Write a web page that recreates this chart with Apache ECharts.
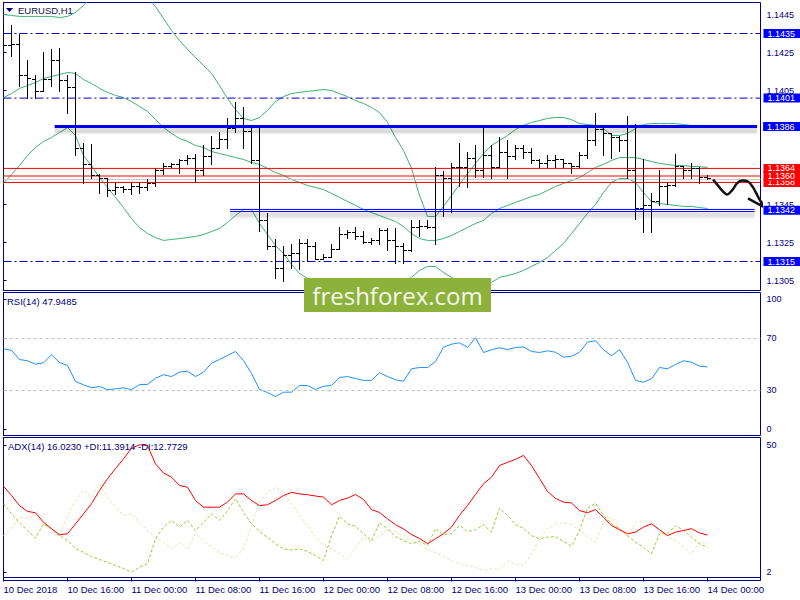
<!DOCTYPE html>
<html><head><meta charset="utf-8">
<script src="https://cdn.jsdelivr.net/npm/echarts@6/dist/echarts.min.js"></script>
<style>html,body{margin:0;padding:0;background:#fff}#c{width:800px;height:600px}</style>
</head><body><div id="c"></div>
<script>
// ---- time axis (hourly bars, index 0 = 10 Dec 2018 08:00) ----
const timeLabels = ['10 Dec 2018','10 Dec 16:00','11 Dec 00:00','11 Dec 08:00','11 Dec 16:00','12 Dec 00:00','12 Dec 08:00','12 Dec 16:00','13 Dec 00:00','13 Dec 08:00','13 Dec 16:00','14 Dec 00:00'];
const timeLabelBars = [0,8,16,24,32,40,48,56,64,72,80,88];

// ---- EURUSD H1 OHLC ----
const open = [1.14376,1.14292,1.14297,1.14134,1.14113,1.14050,1.14113,1.14208,1.14103,1.14066,
1.13750,1.13661,1.13603,1.13587,1.13524,1.13540,1.13529,1.13545,1.13540,1.13561,
1.13629,1.13655,1.13661,1.13682,1.13697,1.13629,1.13703,1.13745,1.13797,1.13855,
1.13903,1.13839,1.13682,1.13366,1.13234,1.13118,1.13182,1.13197,1.13250,1.13234,
1.13161,1.13176,1.13218,1.13297,1.13303,1.13282,1.13255,1.13261,1.13318,1.13261,
1.13234,1.13213,1.13334,1.13339,1.13329,1.13603,1.13587,1.13645,1.13650,1.13697,
1.13629,1.13708,1.13650,1.13724,1.13703,1.13745,1.13724,1.13682,1.13666,1.13682,
1.13692,1.13666,1.13655,1.13708,1.13787,1.13850,1.13824,1.13803,1.13787,1.13629,
1.13429,1.13445,1.13471,1.13550,1.13555,1.13655,1.13629,1.13640,1.13597];
const high = [1.14397,1.14397,1.14350,1.14213,1.14134,1.14255,1.14266,1.14276,1.14134,1.14145,
1.13776,1.13771,1.13608,1.13592,1.13566,1.13545,1.13561,1.13566,1.13582,1.13640,
1.13666,1.13671,1.13692,1.13708,1.13718,1.13761,1.13813,1.13829,1.13903,1.13987,
1.13961,1.13855,1.13866,1.13403,1.13271,1.13229,1.13240,1.13271,1.13266,1.13255,
1.13192,1.13240,1.13329,1.13318,1.13329,1.13313,1.13276,1.13324,1.13324,1.13324,
1.13245,1.13371,1.13371,1.13366,1.13645,1.13624,1.13666,1.13776,1.13724,1.13761,
1.13855,1.13761,1.13803,1.13787,1.13761,1.13761,1.13750,1.13692,1.13708,1.13708,
1.13692,1.13671,1.13724,1.13866,1.13934,1.13855,1.13824,1.13813,1.13918,1.13876,
1.13692,1.13513,1.13629,1.13566,1.13718,1.13655,1.13671,1.13645,1.13603];
const low = [1.14276,1.14234,1.14076,1.14013,1.14013,1.14045,1.14076,1.14050,1.13929,1.13713,
1.13561,1.13592,1.13508,1.13497,1.13503,1.13518,1.13503,1.13513,1.13524,1.13550,
1.13613,1.13645,1.13618,1.13661,1.13566,1.13603,1.13661,1.13745,1.13750,1.13829,
1.13750,1.13666,1.13313,1.13218,1.13061,1.13045,1.13118,1.13108,1.13155,1.13161,
1.13161,1.13176,1.13218,1.13276,1.13266,1.13245,1.13240,1.13240,1.13208,1.13140,
1.13140,1.13203,1.13282,1.13324,1.13240,1.13392,1.13413,1.13550,1.13540,1.13597,
1.13597,1.13592,1.13645,1.13592,1.13692,1.13697,1.13671,1.13645,1.13645,1.13645,
1.13645,1.13618,1.13645,1.13697,1.13761,1.13708,1.13697,1.13734,1.13587,1.13376,
1.13303,1.13303,1.13445,1.13455,1.13550,1.13587,1.13592,1.13561,1.13582];
const close = [1.14292,1.14297,1.14134,1.14118,1.14050,1.14113,1.14208,1.14103,1.14066,1.13750,
1.13661,1.13603,1.13587,1.13524,1.13540,1.13529,1.13545,1.13540,1.13561,1.13629,
1.13655,1.13661,1.13682,1.13697,1.13629,1.13703,1.13745,1.13797,1.13855,1.13903,
1.13839,1.13682,1.13366,1.13234,1.13118,1.13182,1.13197,1.13250,1.13234,1.13161,
1.13176,1.13218,1.13297,1.13303,1.13282,1.13255,1.13261,1.13318,1.13261,1.13234,
1.13213,1.13334,1.13339,1.13329,1.13603,1.13587,1.13645,1.13650,1.13697,1.13629,
1.13708,1.13650,1.13724,1.13703,1.13745,1.13724,1.13682,1.13666,1.13682,1.13692,
1.13666,1.13655,1.13708,1.13787,1.13850,1.13824,1.13803,1.13787,1.13629,1.13429,
1.13445,1.13471,1.13550,1.13555,1.13655,1.13629,1.13640,1.13597,1.13587];

// ---- Bollinger Bands ----
const bbUpper = [1.14450,1.14445,1.14440,1.14440,1.14440,1.14440,1.14440,1.14434,1.14440,1.14461,
1.14497,1.14550,1.14603,1.14640,1.14655,1.14655,1.14629,1.14587,1.14540,1.14492,
1.14429,1.14366,1.14313,1.14266,1.14224,1.14182,1.14140,1.14076,1.14008,1.13950,
1.13903,1.13892,1.13908,1.13945,1.13992,1.14018,1.14034,1.14040,1.14045,1.14050,
1.14055,1.14050,1.14034,1.14018,1.13997,1.13982,1.13961,1.13934,1.13882,1.13803,
1.13734,1.13640,1.13497,1.13387,1.13387,1.13440,1.13497,1.13555,1.13613,1.13666,
1.13718,1.13761,1.13787,1.13813,1.13845,1.13866,1.13882,1.13892,1.13903,1.13908,
1.13908,1.13897,1.13876,1.13871,1.13866,1.13850,1.13813,1.13813,1.13824,1.13850,
1.13871,1.13876,1.13876,1.13876,1.13876,1.13871,1.13866,1.13866,1.13866];
const bbMiddle = [1.14013,1.14034,1.14061,1.14076,1.14092,1.14113,1.14124,1.14134,1.14145,1.14140,
1.14108,1.14087,1.14061,1.14040,1.14024,1.14013,1.13992,1.13966,1.13940,1.13897,
1.13855,1.13824,1.13797,1.13782,1.13761,1.13750,1.13729,1.13718,1.13708,1.13697,
1.13687,1.13671,1.13661,1.13640,1.13618,1.13603,1.13582,1.13566,1.13550,1.13540,
1.13529,1.13508,1.13487,1.13466,1.13445,1.13424,1.13408,1.13392,1.13376,1.13361,
1.13334,1.13297,1.13271,1.13261,1.13261,1.13271,1.13287,1.13308,1.13329,1.13350,
1.13366,1.13403,1.13429,1.13445,1.13461,1.13476,1.13492,1.13503,1.13524,1.13545,
1.13561,1.13576,1.13592,1.13618,1.13645,1.13661,1.13682,1.13697,1.13697,1.13697,
1.13687,1.13676,1.13666,1.13661,1.13655,1.13655,1.13650,1.13650,1.13645];
const bbLower = [1.13561,1.13608,1.13655,1.13708,1.13750,1.13782,1.13803,1.13829,1.13855,1.13813,
1.13708,1.13655,1.13592,1.13540,1.13487,1.13434,1.13376,1.13329,1.13297,1.13276,
1.13261,1.13266,1.13271,1.13276,1.13282,1.13292,1.13308,1.13324,1.13355,1.13392,
1.13424,1.13424,1.13350,1.13292,1.13234,1.13192,1.13134,1.13087,1.13061,1.13040,
1.13024,1.13008,1.12997,1.12992,1.12992,1.12992,1.12997,1.13003,1.13008,1.13024,
1.13040,1.13066,1.13103,1.13124,1.13124,1.13092,1.13066,1.13045,1.13029,1.13018,
1.13018,1.13040,1.13066,1.13076,1.13087,1.13103,1.13124,1.13145,1.13171,1.13208,
1.13245,1.13297,1.13350,1.13403,1.13450,1.13513,1.13566,1.13587,1.13587,1.13566,
1.13513,1.13466,1.13455,1.13450,1.13445,1.13440,1.13440,1.13434,1.13429];

// ---- RSI(14) ----
const rsi = [61.9,60.6,53.6,52.6,50.0,51.0,57.2,51.3,49.0,36.6,
34.0,31.7,32.7,30.2,30.9,31.7,30.2,34.3,34.3,39.1,
41.8,40.4,43.8,44.5,40.4,43.8,50.7,53.6,56.7,59.8,
52.8,42.8,30.4,28.1,25.0,28.3,28.3,33.5,33.5,30.4,
32.9,33.5,39.7,40.4,38.9,37.4,37.4,43.3,40.4,37.9,
36.8,46.4,47.4,47.4,52.0,63.1,65.4,66.5,62.9,70.4,
59.0,61.1,62.6,61.3,62.9,63.3,59.8,59.0,60.3,59.2,
55.4,56.1,59.2,67.0,68.1,61.1,56.5,61.1,51.5,37.4,
36.0,38.7,47.4,46.4,49.7,52.6,51.5,48.4,47.9];

// ---- ADX(14) ----
const adx = [34.4,30.9,27.1,24.9,24.4,20.8,18.4,16.1,16.5,20.2,
24.0,27.8,32.8,37.2,41.0,44.7,48.7,50.0,49.7,42.8,
39.4,37.8,34.7,34.0,29.0,26.5,26.5,26.5,28.4,31.5,
31.5,29.0,27.1,27.4,29.0,30.9,32.1,31.5,31.2,30.7,
30.3,27.4,29.0,29.9,31.3,29.4,25.6,24.5,22.1,19.9,
18.3,16.2,14.7,12.8,14.6,16.5,19.0,23.4,27.1,31.3,
35.3,37.8,42.2,43.4,44.5,46.0,42.2,37.3,32.4,29.8,
28.4,28.1,25.2,24.4,25.6,22.7,19.6,18.0,16.5,17.1,
19.0,20.2,18.0,15.8,17.1,17.7,18.4,16.8,16.0];
const plusDI = [27.8,24.0,20.6,17.7,14.8,20.2,18.4,15.8,13.9,10.9,
9.5,7.9,6.8,5.7,4.5,3.4,2.0,3.9,5.2,14.6,
19.0,21.5,19.0,21.5,17.7,20.8,24.0,21.5,25.2,29.7,
24.6,20.2,17.3,15.2,12.7,10.8,10.4,10.8,9.8,8.3,
6.4,15.8,23.1,20.2,19.3,16.5,13.9,20.6,18.4,15.4,
13.9,12.7,13.6,12.1,18.4,16.1,16.5,19.6,17.3,18.0,
19.9,17.1,26.1,23.4,19.9,18.6,15.8,14.6,15.2,15.4,
13.6,11.8,17.7,26.1,28.0,23.4,20.2,18.4,15.8,13.3,
11.4,8.9,16.5,16.5,19.6,17.7,15.2,12.7,11.4];
const minusDI = [15.8,18.4,22.7,22.3,23.4,20.2,17.7,15.8,23.4,29.0,
32.8,30.3,35.3,30.3,26.5,23.4,24.0,20.8,17.7,15.2,
13.1,10.8,13.1,11.0,16.5,13.9,11.4,9.5,8.3,7.6,
10.8,19.6,28.4,32.1,34.0,32.1,27.8,23.4,19.6,15.2,
12.1,10.8,8.9,7.0,11.4,15.2,13.3,15.8,18.1,17.1,
15.8,13.9,12.7,10.5,9.4,7.9,6.4,5.2,4.5,3.8,
2.6,3.2,3.2,6.0,5.2,4.5,8.9,14.7,18.4,20.2,
20.7,20.0,17.7,15.2,13.3,20.8,22.7,18.4,15.2,20.8,
21.4,20.8,17.7,15.2,13.9,11.4,8.9,13.3,12.8];

// ---- axis tick labels ----
const priceTicks = [1.1305,1.1325,1.1345,1.1405,1.1425,1.1445];
const rsiTicks = [0,30,70,100];
const adxTicks = [2,50];

// ---- drawn levels ----
const dashLevels = [1.1435,1.1401,1.1315];
const redLevels = [1.13566,1.1360,1.1364];
const redLevelLabels = ['1.1358','1.1360','1.1364'];
const bidPrice = 1.13582;
const resistLevel = 1.1386, resistStartBar = 6.4, levelEndBar = 94.2;
const supportTop = 1.13424, supportBottom = 1.13413, supportLabel = 1.1342, supportStartBar = 28.3, supportEndBar = 93.9;
// hand-drawn forecast arrow, [bar index, price]
const arrowPath = [[88.69,1.13582],[89.31,1.13550],[89.81,1.13524],[90.44,1.13503],[91.06,1.13524],[91.69,1.13561],[92.31,1.13576],[93.06,1.13571],[93.69,1.13540],[94.31,1.13492],[94.94,1.13445]];
const arrowHead = [[93.06,1.13482],[94.94,1.13439],[95.31,1.13529]];

const NAVY = '#000080';
const FONT = 'Liberation Sans';
const PMIN = 1.129974, PMAX = 1.145132, MAIN_H = 288;
const PX = (PMAX - PMIN) / MAIN_H;       // price per pixel, for drop shadows
const X0 = 0, X1 = 94.625;
const idx = a => a.map((v,i)=>[i,v]);

const chart = echarts.init(document.getElementById('c'), null, {renderer:'svg'});

const xBase = {type:'value', min:X0, max:X1, show:false};
const yBase = {
  type:'value', position:'right', scale:true,
  axisLine:{show:true, lineStyle:{color:NAVY, width:1}},
  axisTick:{show:true, inside:false, length:3, lineStyle:{color:NAVY}},
  axisLabel:{color:NAVY, fontSize:9, fontFamily:FONT, margin:6},
  splitLine:{show:false}
};

function endLbl(text, bg, dist){
  return {show:true, formatter:text, distance:dist, color:'#fff', backgroundColor:bg,
    padding:[0,8,0,4], fontSize:9, fontFamily:FONT, lineHeight:9, align:'left', verticalAlign:'middle'};
}
function levelSeries(name, x0, x1, v, lineStyle, label, z){
  return {name, type:'line', xAxisIndex:0, yAxisIndex:0, data:[[x0,v],[x1,v]], showSymbol:false, symbol:'none',
    clip:false, silent:true, z:z||3, lineStyle, endLabel: label || {show:false}, emphasis:{disabled:true}};
}

const levels = [];
dashLevels.forEach(v => levels.push(levelSeries('lvl'+v, X0, X1, v,
  {type:[8,3,2,3], color:'#0000cd', width:1}, endLbl(v.toFixed(4), '#0000ff', 3))));
levels.push(levelSeries('bid', X0, X1, bidPrice, {type:'solid', color:'#c8c8c8', width:1}, null));
redLevels.forEach((v,i) => levels.push(levelSeries('red'+i, X0, X1, v,
  {type:'solid', color:'#ff0000', width:1}, endLbl(redLevelLabels[i], '#ff0000', 3), 3+i*0.1)));
// soft drop shadows under the drawn blue levels
levels.push(levelSeries('resistShadow1', resistStartBar, levelEndBar, resistLevel - 3.5*PX,
  {type:'solid', color:'rgba(0,0,0,0.13)', width:5}, null, 4));
levels.push(levelSeries('resistShadow2', resistStartBar, levelEndBar, resistLevel - 6.5*PX,
  {type:'solid', color:'rgba(0,0,0,0.06)', width:3}, null, 4));
levels.push(levelSeries('resist', resistStartBar, levelEndBar, resistLevel,
  {type:'solid', color:'#0000f0', width:3}, endLbl(resistLevel.toFixed(4), '#0000ff', 6), 5));
levels.push(levelSeries('supportShadow1', supportStartBar, supportEndBar, supportBottom - 3*PX,
  {type:'solid', color:'rgba(0,0,0,0.12)', width:4}, null, 4));
levels.push(levelSeries('supportShadow2', supportStartBar, supportEndBar, supportBottom - 6*PX,
  {type:'solid', color:'rgba(0,0,0,0.05)', width:3}, null, 4));
levels.push(levelSeries('supportTop', supportStartBar, supportEndBar, supportTop,
  {type:'solid', color:'#0000ff', width:1}, null, 5));
levels.push(levelSeries('supportBottom', supportStartBar, supportEndBar, supportBottom,
  {type:'solid', color:'#0000ff', width:1}, null, 5));
levels.push(levelSeries('supportLbl', supportEndBar, X1, supportLabel,
  {opacity:0, width:0}, endLbl(supportLabel.toFixed(4), '#0000ff', 3), 5));

const option = {
  animation:false,
  backgroundColor:'#fff',
  grid:[
    {left:3.5, top:2.5, width:757, height:MAIN_H, show:true, borderColor:NAVY, borderWidth:1},
    {left:3.5, top:292.5, width:757, height:143, show:true, borderColor:NAVY, borderWidth:1},
    {left:3.5, top:437.5, width:757, height:143, show:true, borderColor:NAVY, borderWidth:1}
  ],
  xAxis:[
    {...xBase, gridIndex:0},
    {...xBase, gridIndex:1},
    {type:'value', gridIndex:2, min:X0, max:X1, show:true,
      axisLine:{show:true, lineStyle:{color:NAVY}},
      axisTick:{show:true, inside:false, length:4, customValues:timeLabelBars, lineStyle:{color:NAVY}},
      axisLabel:{show:true, customValues:timeLabelBars, align:'left', margin:4, color:NAVY, fontSize:9.5, fontFamily:FONT,
        formatter:v => timeLabels[timeLabelBars.indexOf(Math.round(v))] || ''},
      splitLine:{show:false}}
  ],
  yAxis:[
    {...yBase, gridIndex:0, min:PMIN, max:PMAX,
      axisTick:{...yBase.axisTick, customValues:priceTicks},
      axisLabel:{...yBase.axisLabel, customValues:priceTicks, formatter:v=>v.toFixed(4)}},
    {...yBase, gridIndex:1, min:-5.2, max:105.4,
      axisTick:{...yBase.axisTick, customValues:rsiTicks},
      axisLabel:{...yBase.axisLabel, customValues:rsiTicks, formatter:v=>String(Math.round(v))}},
    {...yBase, gridIndex:2, min:-1.13, max:52.75,
      axisTick:{...yBase.axisTick, customValues:adxTicks},
      axisLabel:{...yBase.axisLabel, customValues:adxTicks, formatter:v=>String(Math.round(v))}}
  ],
  series:[
    {name:'BB upper', type:'line', xAxisIndex:0, yAxisIndex:0, data:idx(bbUpper), showSymbol:false, clip:true,
      lineStyle:{color:'#3cb371', width:1}, z:2, silent:true},
    {name:'BB lower', type:'line', xAxisIndex:0, yAxisIndex:0, data:idx(bbLower), showSymbol:false, clip:true,
      lineStyle:{color:'#3cb371', width:1}, z:2, silent:true},
    {name:'BB middle', type:'line', xAxisIndex:0, yAxisIndex:0, data:idx(bbMiddle), showSymbol:false, clip:true,
      lineStyle:{color:'#3cb371', width:1}, z:2, silent:true},
    ...levels,
    {name:'EURUSD', type:'custom', xAxisIndex:0, yAxisIndex:0, z:4.5, clip:true,
      data: open.map((o,i)=>[i,o,high[i],low[i],close[i]]),
      encode:{x:0, y:[1,2,3,4]},
      renderItem:(params, api)=>{
        const i = api.value(0);
        const pH = api.coord([i, api.value(2)]);
        const pL = api.coord([i, api.value(3)]);
        const pO = api.coord([i, api.value(1)]);
        const pC = api.coord([i, api.value(4)]);
        const cx = Math.floor(pH[0]) + 0.5;
        const st = {stroke:'#000', lineWidth:1};
        const oy = Math.round(pO[1]) + 0.5, cy = Math.round(pC[1]) + 0.5;
        return {type:'group', children:[
          {type:'line', shape:{x1:cx, y1:Math.round(pH[1]), x2:cx, y2:Math.round(pL[1])+1}, style:st},
          {type:'line', shape:{x1:cx-3.5, y1:oy, x2:cx, y2:oy}, style:st},
          {type:'line', shape:{x1:cx, y1:cy, x2:cx+3.5, y2:cy}, style:st}
        ]};
      }},
    {name:'forecast', type:'line', xAxisIndex:0, yAxisIndex:0, data:arrowPath, showSymbol:false, clip:false, smooth:0.35,
      lineStyle:{color:'#111', width:2.5}, z:8, silent:true},
    {name:'forecastHead', type:'line', xAxisIndex:0, yAxisIndex:0, data:arrowHead, showSymbol:false, clip:false,
      lineStyle:{color:'#111', width:2.5}, z:8, silent:true},
    {name:'RSI', type:'line', xAxisIndex:1, yAxisIndex:1, data:idx(rsi), showSymbol:false,
      lineStyle:{color:'#1e90ff', width:1}, silent:true,
      markLine:{symbol:['none','none'], silent:true, label:{show:false},
        lineStyle:{type:[3,3], color:'#c0c0c0', width:1}, data:[{yAxis:70},{yAxis:30}]}},
    {name:'-DI', type:'line', xAxisIndex:2, yAxisIndex:2, data:idx(minusDI), showSymbol:false,
      lineStyle:{color:'#f5deb3', width:1, type:[3,2]}, silent:true},
    {name:'+DI', type:'line', xAxisIndex:2, yAxisIndex:2, data:idx(plusDI), showSymbol:false,
      lineStyle:{color:'#9acd32', width:1, type:[3,2]}, silent:true},
    {name:'ADX', type:'line', xAxisIndex:2, yAxisIndex:2, data:idx(adx), showSymbol:false,
      lineStyle:{color:'#ff0000', width:1}, silent:true}
  ],
  graphic:[
    {type:'polygon', shape:{points:[[6,8],[13,8],[9.5,12]]}, style:{fill:NAVY}, z:10},
    {type:'text', x:18, y:10, style:{text:'EURUSD,H1', fill:'#101050', font:'9.5px "Liberation Sans"', textVerticalAlign:'middle'}, z:10},
    {type:'text', x:7, y:301, style:{text:'RSI(14) 47.9485', fill:NAVY, font:'9.5px "Liberation Sans"', textVerticalAlign:'middle'}, z:10},
    {type:'text', x:8, y:446, style:{text:'ADX(14) 16.0230 +DI:11.3914 -DI:12.7729', fill:NAVY, font:'9.5px "Liberation Sans"', textVerticalAlign:'middle'}, z:10},
    {type:'rect', shape:{x:304, y:278, width:187, height:34}, style:{fill:'#8db23c'}, z:20},
    {type:'text', x:397.5, y:295, style:{text:'freshforex.com', fill:'#f4f8ec', font:'24px "Open Sans"', textAlign:'center', textVerticalAlign:'middle'}, z:21}
  ]
};
chart.setOption(option);
</script>
</body></html>
